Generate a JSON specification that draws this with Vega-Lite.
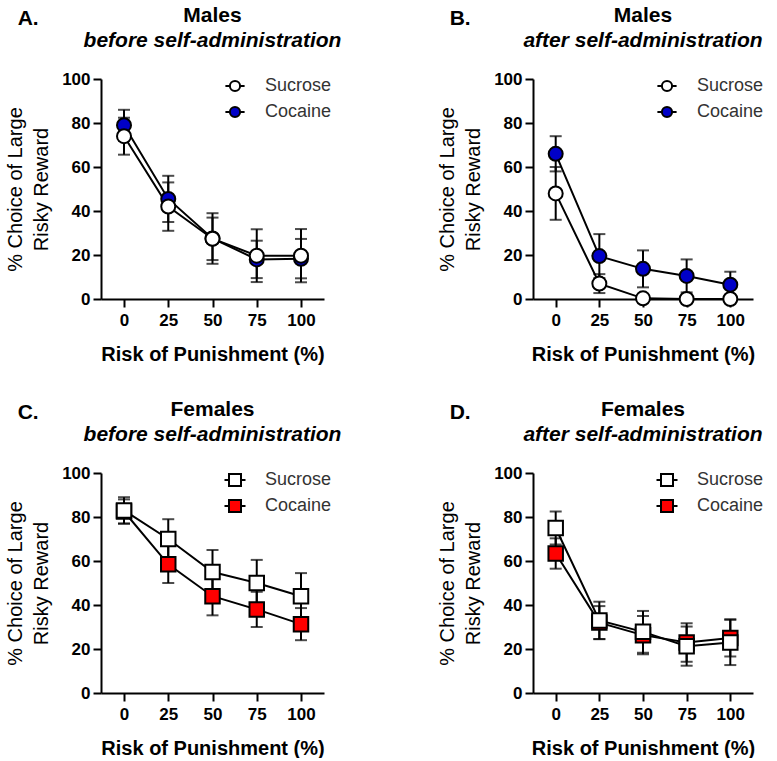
{
  "$schema": "https://vega.github.io/schema/vega-lite/v6.json",
  "background": "white",
  "padding": {"left": 5, "top": 5, "right": 5, "bottom": 0},
  "datasets": {
    "rows": [
      {"panel": "A", "group": "Cocaine", "risk": 0, "mean": 79, "lo": 72, "hi": 86},
      {"panel": "A", "group": "Cocaine", "risk": 25, "mean": 45.5, "lo": 35, "hi": 56},
      {"panel": "A", "group": "Cocaine", "risk": 50, "mean": 27.5, "lo": 16, "hi": 39},
      {"panel": "A", "group": "Cocaine", "risk": 75, "mean": 18, "lo": 9.5, "hi": 26.5},
      {"panel": "A", "group": "Cocaine", "risk": 100, "mean": 18.3, "lo": 9.4, "hi": 27.3},
      {"panel": "A", "group": "Sucrose", "risk": 0, "mean": 74, "lo": 65.6, "hi": 82.4},
      {"panel": "A", "group": "Sucrose", "risk": 25, "mean": 42, "lo": 31, "hi": 53},
      {"panel": "A", "group": "Sucrose", "risk": 50, "mean": 27.4, "lo": 17.7, "hi": 37},
      {"panel": "A", "group": "Sucrose", "risk": 75, "mean": 19.7, "lo": 7.7, "hi": 31.7},
      {"panel": "A", "group": "Sucrose", "risk": 100, "mean": 19.7, "lo": 7.6, "hi": 31.8},
      {"panel": "B", "group": "Cocaine", "risk": 0, "mean": 66, "lo": 58, "hi": 74},
      {"panel": "B", "group": "Cocaine", "risk": 25, "mean": 19.5, "lo": 9.5, "hi": 29.5},
      {"panel": "B", "group": "Cocaine", "risk": 50, "mean": 13.7, "lo": 5.3, "hi": 22.1},
      {"panel": "B", "group": "Cocaine", "risk": 75, "mean": 10.5, "lo": 3, "hi": 18},
      {"panel": "B", "group": "Cocaine", "risk": 100, "mean": 6.5, "lo": 0.6, "hi": 12.4},
      {"panel": "B", "group": "Sucrose", "risk": 0, "mean": 48, "lo": 36, "hi": 60},
      {"panel": "B", "group": "Sucrose", "risk": 25, "mean": 7, "lo": 2.7, "hi": 11.3},
      {"panel": "B", "group": "Sucrose", "risk": 50, "mean": 0.3, "lo": 0, "hi": 0.6},
      {"panel": "B", "group": "Sucrose", "risk": 75, "mean": 0, "lo": 0, "hi": 0},
      {"panel": "B", "group": "Sucrose", "risk": 100, "mean": 0, "lo": 0, "hi": 0},
      {"panel": "C", "group": "Cocaine", "risk": 0, "mean": 82.5, "lo": 77, "hi": 88},
      {"panel": "C", "group": "Cocaine", "risk": 25, "mean": 58.5, "lo": 50, "hi": 67},
      {"panel": "C", "group": "Cocaine", "risk": 50, "mean": 44, "lo": 35.3, "hi": 52.7},
      {"panel": "C", "group": "Cocaine", "risk": 75, "mean": 38, "lo": 30, "hi": 46},
      {"panel": "C", "group": "Cocaine", "risk": 100, "mean": 31.3, "lo": 24, "hi": 38.6},
      {"panel": "C", "group": "Sucrose", "risk": 0, "mean": 83, "lo": 77, "hi": 89},
      {"panel": "C", "group": "Sucrose", "risk": 25, "mean": 70, "lo": 61, "hi": 79},
      {"panel": "C", "group": "Sucrose", "risk": 50, "mean": 55, "lo": 45, "hi": 65},
      {"panel": "C", "group": "Sucrose", "risk": 75, "mean": 50, "lo": 39.5, "hi": 60.5},
      {"panel": "C", "group": "Sucrose", "risk": 100, "mean": 44, "lo": 33.5, "hi": 54.5},
      {"panel": "D", "group": "Cocaine", "risk": 0, "mean": 63.4, "lo": 56.5, "hi": 70.3},
      {"panel": "D", "group": "Cocaine", "risk": 25, "mean": 32, "lo": 24.5, "hi": 39.5},
      {"panel": "D", "group": "Cocaine", "risk": 50, "mean": 26.3, "lo": 17.6, "hi": 35},
      {"panel": "D", "group": "Cocaine", "risk": 75, "mean": 23, "lo": 14.2, "hi": 31.7},
      {"panel": "D", "group": "Cocaine", "risk": 100, "mean": 25, "lo": 16.6, "hi": 33.5},
      {"panel": "D", "group": "Sucrose", "risk": 0, "mean": 75, "lo": 67.5, "hi": 82.5},
      {"panel": "D", "group": "Sucrose", "risk": 25, "mean": 33, "lo": 24.5, "hi": 41.5},
      {"panel": "D", "group": "Sucrose", "risk": 50, "mean": 27.8, "lo": 18.3, "hi": 37.3},
      {"panel": "D", "group": "Sucrose", "risk": 75, "mean": 21.3, "lo": 12.4, "hi": 30.2},
      {"panel": "D", "group": "Sucrose", "risk": 100, "mean": 23, "lo": 12.7, "hi": 33.3}
    ]
  },
  "vconcat": [
    {
      "hconcat": [
        {
          "title": {"text": "A.", "anchor": "start", "frame": "bounds", "fontSize": 21, "dx": 12, "offset": -24},
          "vconcat": [
            {
              "width": 223, "height": 220,
              "title": {"text": "Males", "subtitle": "before self-administration"},
              "data": {"name": "rows"},
              "transform": [{"filter": "datum.panel === 'A'"}],
              "encoding": {
                "x": {"field": "risk", "type": "quantitative", "scale": {"domain": [-13, 113], "nice": false, "zero": false},
                      "axis": {"values": [0, 25, 50, 75, 100], "title": "Risk of Punishment (%)"}}
              },
              "layer": [
                {"mark": {"type": "errorbar", "ticks": true, "size": 12, "thickness": 2, "color": "black"},
                 "encoding": {"y": {"field": "lo", "type": "quantitative", "scale": {"domain": [0, 100], "nice": false}, "axis": {"values": [0, 20, 40, 60, 80, 100], "title": ["% Choice of Large", "Risky Reward"]}}, "y2": {"field": "hi"}}},
                {"mark": {"type": "line", "color": "black", "strokeWidth": 2},
                 "encoding": {"y": {"field": "mean", "type": "quantitative", "axis": {"values": [0, 20, 40, 60, 80, 100], "title": ["% Choice of Large", "Risky Reward"]}}, "detail": {"field": "group"}}},
                {"mark": {"type": "point", "shape": "circle", "filled": true, "size": 196, "stroke": "black", "strokeWidth": 2, "opacity": 1},
                 "encoding": {"y": {"field": "mean", "type": "quantitative"},
                   "fill": {"field": "group", "type": "nominal", "scale": {"domain": ["Sucrose", "Cocaine"], "range": ["white", "#0000c8"]},
                     "legend": {"symbolType": "M-1.6,0L-0.85,0M0.85,0L1.6,0M-0.85,0A0.85,0.85,0,1,1,0.85,0A0.85,0.85,0,1,1,-0.85,0Z"}}}}
              ]
            }
          ],
          "resolve": {"scale": {"fill": "independent"}, "legend": {"fill": "independent"}}
        },
        {
          "title": {"text": "B.", "anchor": "start", "frame": "bounds", "fontSize": 21, "dx": 12, "offset": -24},
          "vconcat": [
            {
              "width": 220, "height": 220,
              "title": {"text": "Males", "subtitle": "after self-administration"},
              "data": {"name": "rows"},
              "transform": [{"filter": "datum.panel === 'B'"}],
              "encoding": {
                "x": {"field": "risk", "type": "quantitative", "scale": {"domain": [-13, 113], "nice": false, "zero": false},
                      "axis": {"values": [0, 25, 50, 75, 100], "title": "Risk of Punishment (%)"}}
              },
              "layer": [
                {"mark": {"type": "errorbar", "ticks": true, "size": 12, "thickness": 2, "color": "black"},
                 "encoding": {"y": {"field": "lo", "type": "quantitative", "scale": {"domain": [0, 100], "nice": false}, "axis": {"values": [0, 20, 40, 60, 80, 100], "title": ["% Choice of Large", "Risky Reward"]}}, "y2": {"field": "hi"}}},
                {"mark": {"type": "line", "color": "black", "strokeWidth": 2},
                 "encoding": {"y": {"field": "mean", "type": "quantitative", "axis": {"values": [0, 20, 40, 60, 80, 100], "title": ["% Choice of Large", "Risky Reward"]}}, "detail": {"field": "group"}}},
                {"mark": {"type": "point", "shape": "circle", "filled": true, "size": 196, "stroke": "black", "strokeWidth": 2, "opacity": 1},
                 "encoding": {"y": {"field": "mean", "type": "quantitative"},
                   "fill": {"field": "group", "type": "nominal", "scale": {"domain": ["Sucrose", "Cocaine"], "range": ["white", "#0000c8"]},
                     "legend": {"symbolType": "M-1.6,0L-0.85,0M0.85,0L1.6,0M-0.85,0A0.85,0.85,0,1,1,0.85,0A0.85,0.85,0,1,1,-0.85,0Z"}}}}
              ]
            }
          ],
          "resolve": {"scale": {"fill": "independent"}, "legend": {"fill": "independent"}}
        }
      ],
      "spacing": 95,
      "resolve": {"scale": {"fill": "independent", "x": "independent", "y": "independent"}, "legend": {"fill": "independent"}, "axis": {"x": "independent", "y": "independent"}}
    },
    {
      "hconcat": [
        {
          "title": {"text": "C.", "anchor": "start", "frame": "bounds", "fontSize": 21, "dx": 12, "offset": -24},
          "vconcat": [
            {
              "width": 223, "height": 220,
              "title": {"text": "Females", "subtitle": "before self-administration"},
              "data": {"name": "rows"},
              "transform": [{"filter": "datum.panel === 'C'"}],
              "encoding": {
                "x": {"field": "risk", "type": "quantitative", "scale": {"domain": [-13, 113], "nice": false, "zero": false},
                      "axis": {"values": [0, 25, 50, 75, 100], "title": "Risk of Punishment (%)"}}
              },
              "layer": [
                {"mark": {"type": "errorbar", "ticks": true, "size": 12, "thickness": 2, "color": "black"},
                 "encoding": {"y": {"field": "lo", "type": "quantitative", "scale": {"domain": [0, 100], "nice": false}, "axis": {"values": [0, 20, 40, 60, 80, 100], "title": ["% Choice of Large", "Risky Reward"]}}, "y2": {"field": "hi"}}},
                {"mark": {"type": "line", "color": "black", "strokeWidth": 2},
                 "encoding": {"y": {"field": "mean", "type": "quantitative", "axis": {"values": [0, 20, 40, 60, 80, 100], "title": ["% Choice of Large", "Risky Reward"]}}, "detail": {"field": "group"}}},
                {"mark": {"type": "point", "shape": "square", "filled": true, "size": 210, "stroke": "black", "strokeWidth": 2, "opacity": 1},
                 "encoding": {"y": {"field": "mean", "type": "quantitative"},
                   "fill": {"field": "group", "type": "nominal", "scale": {"domain": ["Sucrose", "Cocaine"], "range": ["white", "#ff0000"]},
                     "legend": {"symbolType": "M-1.75,0L-1,0M1,0L1.75,0M-1,-1L1,-1L1,1L-1,1Z"}}}}
              ]
            }
          ],
          "resolve": {"scale": {"fill": "independent"}, "legend": {"fill": "independent"}}
        },
        {
          "title": {"text": "D.", "anchor": "start", "frame": "bounds", "fontSize": 21, "dx": 12, "offset": -24},
          "vconcat": [
            {
              "width": 220, "height": 220,
              "title": {"text": "Females", "subtitle": "after self-administration"},
              "data": {"name": "rows"},
              "transform": [{"filter": "datum.panel === 'D'"}],
              "encoding": {
                "x": {"field": "risk", "type": "quantitative", "scale": {"domain": [-13, 113], "nice": false, "zero": false},
                      "axis": {"values": [0, 25, 50, 75, 100], "title": "Risk of Punishment (%)"}}
              },
              "layer": [
                {"mark": {"type": "errorbar", "ticks": true, "size": 12, "thickness": 2, "color": "black"},
                 "encoding": {"y": {"field": "lo", "type": "quantitative", "scale": {"domain": [0, 100], "nice": false}, "axis": {"values": [0, 20, 40, 60, 80, 100], "title": ["% Choice of Large", "Risky Reward"]}}, "y2": {"field": "hi"}}},
                {"mark": {"type": "line", "color": "black", "strokeWidth": 2},
                 "encoding": {"y": {"field": "mean", "type": "quantitative", "axis": {"values": [0, 20, 40, 60, 80, 100], "title": ["% Choice of Large", "Risky Reward"]}}, "detail": {"field": "group"}}},
                {"mark": {"type": "point", "shape": "square", "filled": true, "size": 210, "stroke": "black", "strokeWidth": 2, "opacity": 1},
                 "encoding": {"y": {"field": "mean", "type": "quantitative"},
                   "fill": {"field": "group", "type": "nominal", "scale": {"domain": ["Sucrose", "Cocaine"], "range": ["white", "#ff0000"]},
                     "legend": {"symbolType": "M-1.75,0L-1,0M1,0L1.75,0M-1,-1L1,-1L1,1L-1,1Z"}}}}
              ]
            }
          ],
          "resolve": {"scale": {"fill": "independent"}, "legend": {"fill": "independent"}}
        }
      ],
      "spacing": 95,
      "resolve": {"scale": {"fill": "independent", "x": "independent", "y": "independent"}, "legend": {"fill": "independent"}, "axis": {"x": "independent", "y": "independent"}}
    }
  ],
  "spacing": 35,
  "resolve": {"scale": {"fill": "independent", "x": "independent", "y": "independent"}, "legend": {"fill": "independent"}, "axis": {"x": "independent", "y": "independent"}},
  "config": {
    "font": "Liberation Sans",
    "view": {"stroke": null},
    "title": {"fontSize": 21, "fontWeight": "bold", "color": "black", "anchor": "middle", "frame": "group", "offset": 19,
              "subtitleFontSize": 21, "subtitleFontStyle": "italic", "subtitleFontWeight": "bold", "subtitleColor": "black", "subtitlePadding": 4},
    "axis": {"grid": false, "domainColor": "black", "domainWidth": 2, "tickColor": "black", "tickWidth": 2, "tickSize": 8,
             "labelFontSize": 17, "labelFontWeight": "bold", "labelColor": "black", "titleColor": "black", "titleFontSize": 20},
    "axisX": {"labelPadding": 5, "titlePadding": 16, "titleFontWeight": "bold"},
    "axisY": {"labelPadding": 3, "titlePadding": 10, "titleFontWeight": "normal", "titleLineHeight": 26},
    "legend": {"title": null, "orient": "none", "legendX": 125, "legendY": -2, "padding": 0, "symbolSize": 144, "symbolStrokeColor": "black", "symbolStrokeWidth": 2,
               "labelFontSize": 18, "labelColor": "#333333", "labelOffset": 21, "rowPadding": 6}
  }
}
